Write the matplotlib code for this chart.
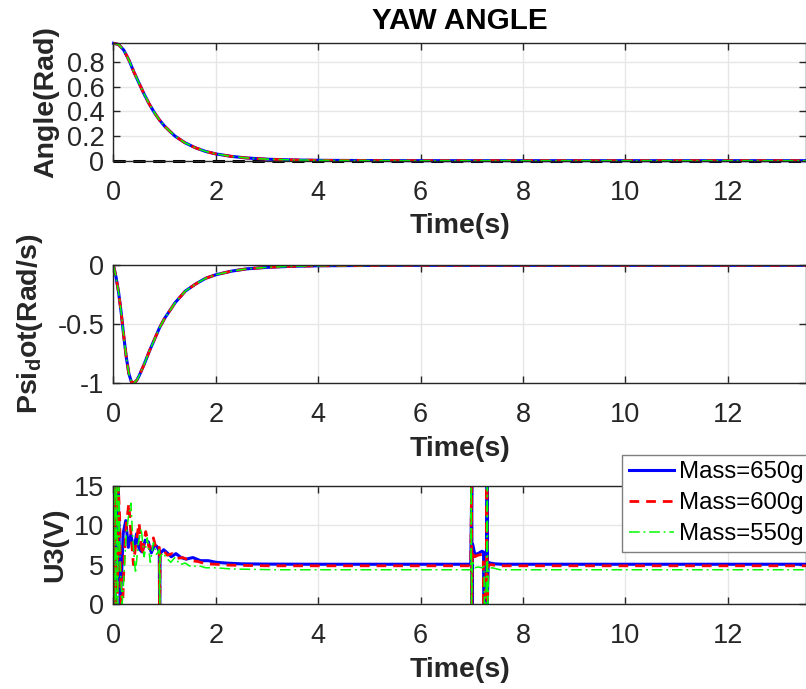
import matplotlib
matplotlib.use("Agg")
import matplotlib.pyplot as plt

plt.rcParams['font.family'] = ['Liberation Sans', 'DejaVu Sans']
plt.rcParams['mathtext.fontset'] = 'custom'
plt.rcParams['mathtext.rm'] = 'Liberation Sans'
plt.rcParams['mathtext.bf'] = 'Liberation Sans:bold'

# yaw angle (rad), the three masses overlap
t_ang = [0, 0.1, 0.2, 0.3, 0.4, 0.5, 0.6, 0.7, 0.8, 0.9, 1.0, 1.2, 1.4, 1.6, 1.8,
         2.0, 2.3, 2.6, 3.0, 3.5, 4.0, 5.0, 6.0, 13.6]
angle = [0.955, 0.945, 0.90, 0.82, 0.72, 0.63, 0.54, 0.46, 0.39, 0.33, 0.28, 0.20,
         0.145, 0.105, 0.075, 0.055, 0.035, 0.022, 0.012, 0.006, 0.003, 0.001, 0.0, 0.0]
angle_ref = [0, 0]
t_ref = [0, 13.6]

# yaw rate (rad/s)
t_rate = [0, 0.05, 0.1, 0.15, 0.2, 0.25, 0.3, 0.35, 0.4, 0.45, 0.5, 0.6, 0.7, 0.8, 0.9,
          1.0, 1.2, 1.4, 1.6, 1.8, 2.0, 2.3, 2.6, 3.0, 3.5, 4.0, 5.0, 6.0, 13.6]
rate = [0, -0.10, -0.23, -0.40, -0.60, -0.78, -0.92, -0.99, -1.0, -0.98, -0.94, -0.84,
        -0.73, -0.63, -0.53, -0.45, -0.32, -0.22, -0.16, -0.11, -0.08, -0.05, -0.03,
        -0.017, -0.008, -0.004, -0.001, 0, 0]

# control input U3 (V)
t_u_650 = [0, 0.01, 0.03, 0.05, 0.07, 0.09, 0.11, 0.13, 0.16, 0.19, 0.24, 0.29, 0.34,
           0.40, 0.45, 0.50, 0.56, 0.62, 0.68, 0.74, 0.80, 0.85, 0.895, 0.90, 0.905,
           0.91, 0.98, 1.05, 1.13, 1.22, 1.32, 1.42, 1.55, 1.70, 1.85, 2.0, 2.2, 2.5,
           3.0, 4.0, 6.98, 7.0, 7.005, 7.015, 7.06, 7.12, 7.2, 7.23, 7.235, 7.26, 7.29,
           7.30, 7.305, 7.32, 7.36, 7.45, 7.6, 13.6]
u_650 = [0, 15, 0, 15, 3, 15, 9, 0, 4, 9, 10.6, 7.2, 8.8, 6.8, 8.9, 7.0, 6.6, 8.1, 7.9,
         6.5, 7.5, 7.3, 6.7, 0, 0, 6.4, 6.9, 6.5, 6.0, 6.4, 5.9, 5.7, 5.9, 5.5, 5.5,
         5.3, 5.2, 5.1, 5.07, 5.05, 5.05, 15, 0, 7.6, 6.3, 6.4, 6.7, 6.6, 0, 0, 6.0,
         15, 0, 5.3, 5.2, 5.1, 5.05, 5.05]
t_u_600 = [0, 0.015, 0.035, 0.055, 0.075, 0.095, 0.12, 0.15, 0.18, 0.21, 0.25, 0.30,
           0.34, 0.39, 0.44, 0.50, 0.56, 0.63, 0.70, 0.78, 0.84, 0.895, 0.90, 0.905,
           0.91, 0.97, 1.05, 1.15, 1.25, 1.35, 1.5, 1.65, 1.8, 2.0, 2.2, 2.5, 3.0, 4.0,
           6.98, 6.995, 7.0, 7.01, 7.06, 7.12, 7.2, 7.225, 7.23, 7.26, 7.285, 7.295,
           7.30, 7.32, 7.38, 7.5, 13.6]
u_600 = [0, 15, 0, 15, 1, 15, 11, 0, 0, 6, 10, 12.8, 9, 5.0, 7.8, 10.3, 6.2, 9.2, 7.0,
         8.4, 6.8, 7.2, 0, 0, 6.5, 6.9, 6.2, 6.4, 5.8, 5.9, 5.5, 5.4, 5.1, 5.05, 4.95,
         4.9, 4.85, 4.85, 4.85, 15, 0, 6.8, 6.0, 6.2, 6.3, 6.0, 0, 0, 5.5, 15, 0, 4.9,
         5.0, 4.85, 4.85]
t_u_550 = [0, 0.02, 0.04, 0.06, 0.08, 0.10, 0.13, 0.17, 0.20, 0.24, 0.29, 0.34, 0.38,
           0.43, 0.48, 0.54, 0.60, 0.66, 0.72, 0.78, 0.84, 0.895, 0.90, 0.905, 0.91,
           0.97, 1.04, 1.12, 1.2, 1.3, 1.4, 1.52, 1.65, 1.8, 2.0, 2.3, 2.7, 3.2, 4.0,
           6.985, 6.99, 6.995, 7.01, 7.06, 7.12, 7.2, 7.24, 7.245, 7.27, 7.29, 7.305,
           7.31, 7.33, 7.4, 7.55, 13.6]
u_550 = [0, 15, 0, 15, 0, 15, 5, 0, 3, 8, 11, 12.8, 8, 3.9, 7.5, 9.6, 6.0, 8.4, 5.3,
         7.8, 6.3, 6.9, 0, 0, 6.0, 6.5, 5.8, 5.3, 5.9, 5.0, 5.2, 4.7, 4.9, 4.6, 4.6,
         4.45, 4.4, 4.35, 4.35, 4.35, 15, 0, 5.5, 4.6, 4.7, 4.6, 4.8, 0, 0, 5.0, 15,
         0, 4.5, 4.6, 4.35, 4.35]

labels = ['Mass=650g', 'Mass=600g', 'Mass=550g']
xticks = [0, 2, 4, 6, 8, 10, 12]

dark = '#262626'
blue_kw = dict(color='#0000ff', lw=2.2, ls='-')
red_kw = dict(color='#ff0000', lw=2.0, ls=(0, (3.5, 2.5)))
green_kw = dict(color='#00ff00', lw=1.1, ls=(0, (7, 2.5, 1.2, 2.5)))

fig = plt.figure(figsize=(8.06, 6.89), dpi=100)
ax1 = fig.add_axes([0.1408, 0.7668, 0.8586, 0.1704])
ax2 = fig.add_axes([0.1408, 0.4441, 0.8586, 0.1708])
ax3 = fig.add_axes([0.1408, 0.1234, 0.8586, 0.1713])

# 1. angle
ax1.plot(t_ref, angle_ref, color='black', lw=2.2, ls=(0, (4, 2.5)), clip_on=False)
ax1.plot(t_ang, angle, clip_on=False, **blue_kw)
ax1.plot(t_ang, angle, clip_on=False, **red_kw)
ax1.plot(t_ang, angle, clip_on=False, **green_kw)
ax1.set_ylim(0, 0.955)
ax1.set_yticks([0, 0.2, 0.4, 0.6, 0.8])
ax1.set_yticklabels(['0', '0.2', '0.4', '0.6', '0.8'])
ax1.set_title('YAW ANGLE', fontsize=21.3, fontweight='bold', color='black', pad=10)

# 2. rate
ax2.plot(t_rate, rate, **blue_kw)
ax2.plot(t_rate, rate, **red_kw)
ax2.plot(t_rate, rate, **green_kw)
ax2.set_ylim(-1, 0)
ax2.set_yticks([-1, -0.5, 0])
ax2.set_yticklabels(['-1', '-0.5', '0'])

# 3. U3
l1, = ax3.plot(t_u_650, u_650, **blue_kw)
l2, = ax3.plot(t_u_600, u_600, **red_kw)
l3, = ax3.plot(t_u_550, u_550, **green_kw)
ax3.set_ylim(0, 15)
ax3.set_yticks([0, 5, 10, 15])

ylabels = ['Angle(Rad)', r'Psi$_{\mathbf{d}}$ot(Rad/s)', 'U3(V)']
ylab_x = [-0.0976, -0.1207, -0.0839]
for ax, lab, lx in zip([ax1, ax2, ax3], ylabels, ylab_x):
    ax.set_xlim(0, 13.52)
    ax.set_xticks(xticks)
    ax.grid(True, color='#e6e6e6', lw=1.0)
    ax.set_axisbelow(True)
    ax.tick_params(direction='in', length=5, width=1.0, top=True, right=True,
                   labelsize=19.5, colors=dark)
    ax.tick_params(axis='x', pad=14)
    ax.tick_params(axis='y', pad=6.5)
    for s in ax.spines.values():
        s.set_color(dark)
        s.set_linewidth(1.0)
    ax.set_xlabel('Time(s)', fontsize=20.5, fontweight='bold', color=dark, va='center')
    ax.xaxis.set_label_coords(0.5, -0.56)
    ax.set_ylabel(lab, fontsize=20.5, fontweight='bold', color=dark, va='center')
    ax.yaxis.set_label_coords(lx, 0.5)

leg = fig.legend([l1, l2, l3], labels, loc='lower left',
                 bbox_to_anchor=(622 / 806, 1 - 552 / 689), borderaxespad=0,
                 fontsize=17.3, handlelength=1.9, handletextpad=0.2, labelspacing=0.37,
                 borderpad=0.28, fancybox=False, framealpha=1, edgecolor='#7f7f7f')
leg.get_frame().set_linewidth(1.0)

fig.savefig('out.png', dpi=100)
